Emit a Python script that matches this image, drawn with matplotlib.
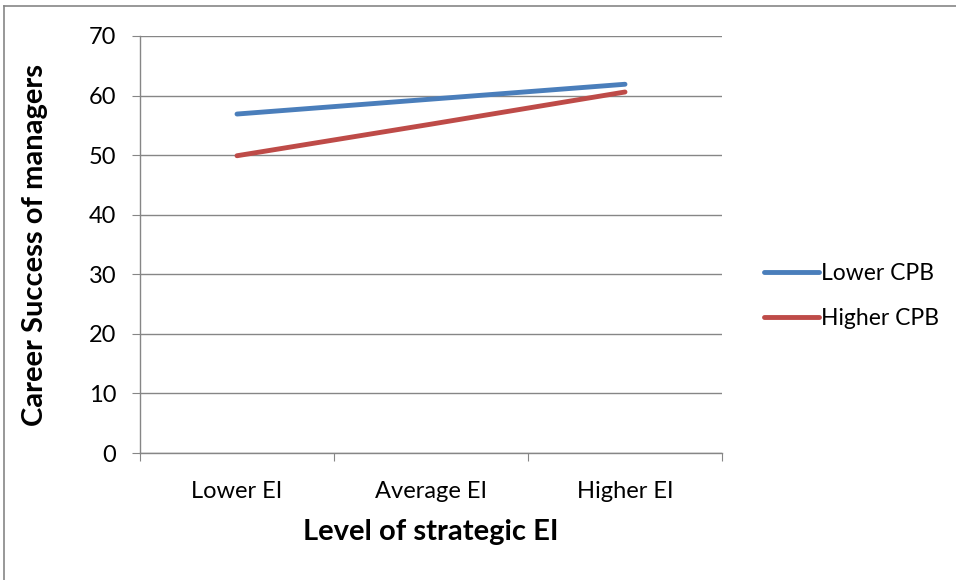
import matplotlib
matplotlib.use("Agg")
import matplotlib.pyplot as plt
from matplotlib.lines import Line2D

plt.rcParams['font.family'] = ['Lato', 'DejaVu Sans']

categories = ["Lower EI", "Average EI", "Higher EI"]
lower_cpb = [56.9, 59.4, 61.9]
higher_cpb = [49.9, 55.2, 60.6]
series_names = ["Lower CPB", "Higher CPB"]
y_ticks = [0, 10, 20, 30, 40, 50, 60, 70]

W, H = 956, 580
fig = plt.figure(figsize=(W / 100, H / 100), dpi=100)
ax = fig.add_axes([140 / W, 1 - 453 / H, (722 - 140) / W, (453 - 36) / H])

grid_c = "#868686"
x = list(range(len(categories)))
l1, = ax.plot(x, lower_cpb, color="#4A7EBB", lw=3.5, solid_capstyle="round")
l2, = ax.plot(x, higher_cpb, color="#BE4B48", lw=3.5, solid_capstyle="round")

ax.set_xlim(-0.5, len(categories) - 0.5)
ax.set_ylim(0, 70)
ax.set_yticks(y_ticks)
ax.yaxis.grid(True, color=grid_c, lw=1)
ax.set_axisbelow(True)

ax.set_xticks([i - 0.5 for i in range(len(categories) + 1)])
ax.set_xticklabels([])
ax.set_xticks(x, minor=True)
ax.set_xticklabels(categories, minor=True)
ax.tick_params(axis="x", which="minor", length=0, pad=20, labelsize=17)
ax.tick_params(axis="x", which="major", length=6, color=grid_c, direction="out")
ax.tick_params(axis="y", length=6, color=grid_c, direction="out", labelsize=17, pad=11)

for s in ["top", "right"]:
    ax.spines[s].set_visible(False)
for s in ["left", "bottom"]:
    ax.spines[s].set_color(grid_c)
    ax.spines[s].set_linewidth(1)

ax.set_xlabel("Level of strategic EI", fontsize=21, fontweight="bold")
ax.xaxis.label.set_va("center")
ax.xaxis.set_label_coords(0.5, -(532 - 453) / 417)
ax.set_ylabel("Career Success of managers", fontsize=21, fontweight="bold")
ax.yaxis.label.set_va("center")
ax.yaxis.set_label_coords((35 - 140) / 582, 0.5)

leg = fig.legend([l1, l2], series_names, loc="upper left",
                 bbox_to_anchor=(755 / W, 1 - 254 / H), frameon=False,
                 fontsize=16.5, handlelength=2.4, handletextpad=0.1,
                 labelspacing=1.05, borderaxespad=0)

# outer chart frame (top and left edges)
fig.add_artist(Line2D([4 / W, 1], [1 - 6 / H, 1 - 6 / H], color=grid_c, lw=1.2))
fig.add_artist(Line2D([4 / W, 4 / W], [0, 1 - 6 / H], color=grid_c, lw=1.2))

fig.savefig("out.png", dpi=100)
